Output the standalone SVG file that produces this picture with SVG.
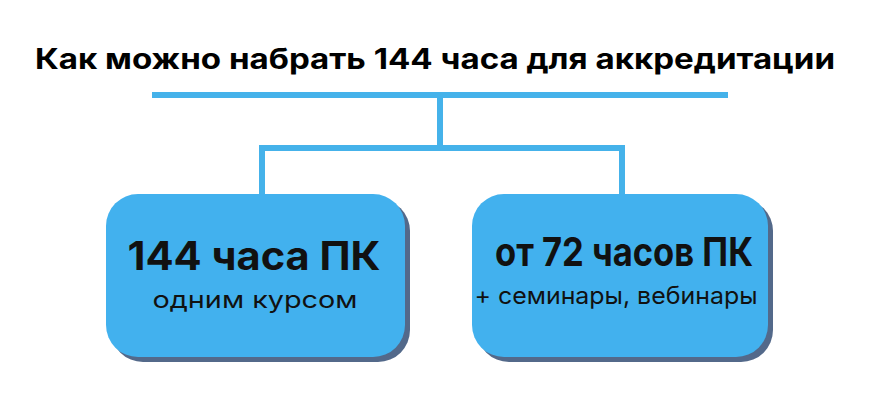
<svg xmlns="http://www.w3.org/2000/svg" width="870" height="400" viewBox="0 0 870 400">
  <defs>
    <style>
      .bg { fill: #ffffff; }
      .wire { fill: none; stroke: #45b2ea; stroke-width: 6; stroke-linecap: butt; stroke-linejoin: miter; }
      .card { fill: #42b1ee; }
      .shade { fill: #53698a; }
      .title { font-family: Inter, "Noto Sans", "Liberation Sans", sans-serif; font-weight: 700; font-size: 28px; fill: #000; }
      .head { font-family: Inter, "Noto Sans", "Liberation Sans", sans-serif; font-weight: 700; font-size: 40px; fill: #111; }
      .sub { font-family: Inter, "Noto Sans", "Liberation Sans", sans-serif; font-weight: 400; font-size: 24px; fill: #111; }
    </style>
  </defs>
  <rect class="bg" x="0" y="0" width="870" height="400"/>

  <g id="title">
    <text class="title" x="435" y="69" text-anchor="middle" textLength="800" lengthAdjust="spacingAndGlyphs">Как можно набрать 144 часа для аккредитации</text>
  </g>

  <g id="connectors">
    <line class="wire" x1="152" y1="95" x2="728" y2="95"/>
    <line class="wire" x1="440" y1="95" x2="440" y2="148"/>
    <polyline class="wire" points="262,196 262,148 622,148 622,196"/>
  </g>

  <g id="node-144">
    <rect class="shade" x="111" y="199" width="299" height="163" rx="32"/>
    <rect class="card" x="106" y="194" width="299" height="163" rx="32"/>
    <text class="head" x="254" y="270" text-anchor="middle" textLength="253" lengthAdjust="spacingAndGlyphs">144 часа ПК</text>
    <text class="sub" x="255" y="308" text-anchor="middle" textLength="205" lengthAdjust="spacingAndGlyphs">одним курсом</text>
  </g>

  <g id="node-72">
    <rect class="shade" x="477" y="199" width="296" height="163" rx="32"/>
    <rect class="card" x="472" y="194" width="296" height="163" rx="32"/>
    <text class="head" x="624" y="266" text-anchor="middle" textLength="258" lengthAdjust="spacingAndGlyphs">от 72 часов ПК</text>
    <text class="sub" x="616" y="304" text-anchor="middle" textLength="283" lengthAdjust="spacingAndGlyphs">+ семинары, вебинары</text>
  </g>
</svg>
